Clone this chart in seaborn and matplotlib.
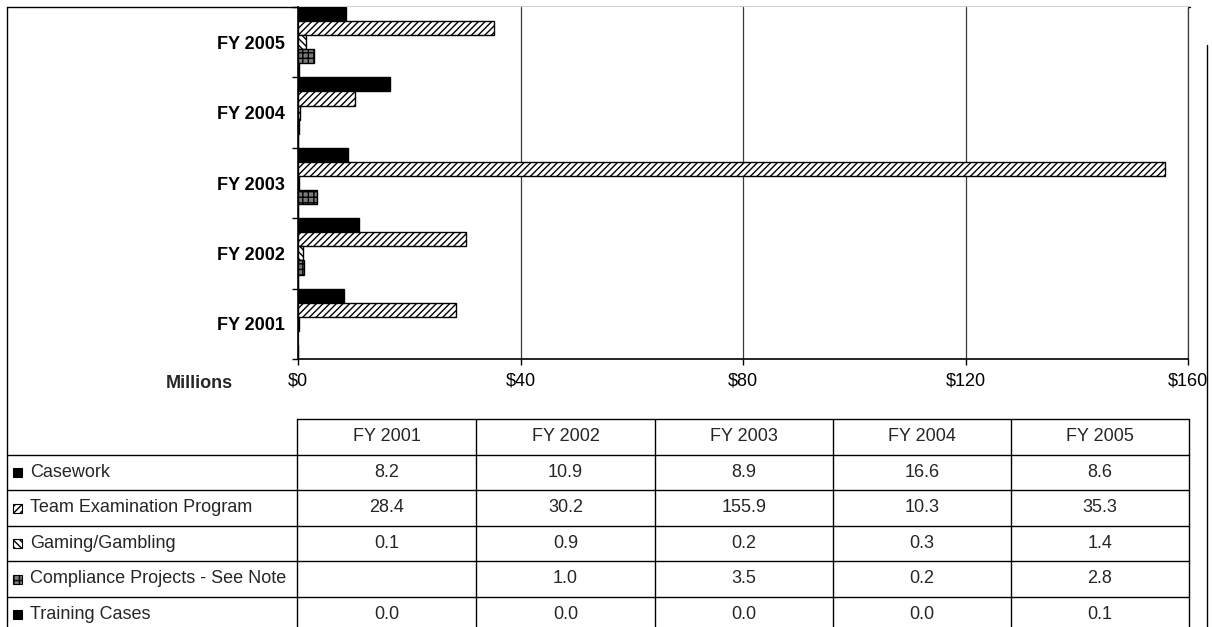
import matplotlib
matplotlib.use("Agg")
import matplotlib.pyplot as plt
from matplotlib.patches import Rectangle
import numpy as np
import pandas as pd
import seaborn as sns

# ---- data (millions of dollars) ----
years = ["FY 2001", "FY 2002", "FY 2003", "FY 2004", "FY 2005"]
programs = ["Casework", "Team Examination Program", "Gaming/Gambling",
            "Compliance Projects - See Note", "Training Cases"]
casework = [8.2, 10.9, 8.9, 16.6, 8.6]
team_exam = [28.4, 30.2, 155.9, 10.3, 35.3]
gaming = [0.1, 0.9, 0.2, 0.3, 1.4]
compliance = [None, 1.0, 3.5, 0.2, 2.8]
training = [0.0, 0.0, 0.0, 0.0, 0.1]
x_ticks = [0, 40, 80, 120, 160]
x_tick_labels = ["$0", "$40", "$80", "$120", "$160"]
unit_label = "Millions"

series = dict(zip(programs, [casework, team_exam, gaming, compliance, training]))

records = []
for prog, vals in series.items():
    for yr, v in zip(years, vals):
        records.append({"year": yr, "program": prog,
                        "value": np.nan if v is None else v})
df = pd.DataFrame(records)

# fill style of each program (bars and table swatches)
styles = {
    "Casework": dict(face="black", hatch=None),
    "Team Examination Program": dict(face="white", hatch="/////"),
    "Gaming/Gambling": dict(face="white", hatch="\\\\\\\\\\"),
    "Compliance Projects - See Note": dict(face="#7a7a7a", hatch="+++"),
    "Training Cases": dict(face="black", hatch=None),
}

sns.set_theme(style="ticks")
plt.rcParams["font.family"] = ["Liberation Sans", "DejaVu Sans"]
plt.rcParams["hatch.linewidth"] = 1.0
plt.rcParams["hatch.color"] = "black"

W, H = 1212, 627
fig = plt.figure(figsize=(W / 100, H / 100), dpi=100)
fig.patch.set_facecolor("white")

def px_rect(x0, y0, x1, y1):
    return [x0 / W, 1 - y1 / H, (x1 - x0) / W, (y1 - y0) / H]

# ---- bar chart ----
ax = fig.add_axes(px_rect(298, 7, 1188, 359))
order = years[::-1]
sns.barplot(data=df, x="value", y="year", hue="program", order=order,
            hue_order=programs, orient="h", width=1.0, dodge=True,
            errorbar=None, palette=[styles[p]["face"] for p in programs],
            saturation=1, edgecolor="black", linewidth=1.0, legend=False, ax=ax)

for cont, prog in zip(ax.containers, programs):
    for bar in cont:
        bar.set_facecolor(styles[prog]["face"])
        bar.set_edgecolor("black")
        if styles[prog]["hatch"]:
            bar.set_hatch(styles[prog]["hatch"])

ax.set_xlim(x_ticks[0], x_ticks[-1])
ax.set_ylim(len(order) - 0.5, -0.5)
ax.set_xticks(x_ticks)
ax.set_xticklabels(x_tick_labels, fontsize=13)
ax.set_yticks(range(len(order)))
ax.set_yticklabels(order, fontsize=13, fontweight="bold")
ax.set_yticks(np.arange(-0.5, len(order), 1.0), minor=True)
ax.tick_params(axis="y", which="major", length=0, pad=9.5, colors="black")
ax.tick_params(axis="y", which="minor", length=4, width=1, direction="out", color="black")
ax.tick_params(axis="x", length=4, width=1, pad=6, colors="black")
ax.set_xlabel("")
ax.set_ylabel("")
ax.grid(axis="x", color="#3a3a3a", linewidth=0.9)
ax.grid(axis="y", visible=False)
ax.set_axisbelow(True)
for side in ["left", "bottom"]:
    ax.spines[side].set_color("black")
    ax.spines[side].set_linewidth(1.2)
ax.spines["top"].set_visible(False)
ax.spines["right"].set_color("#3a3a3a")
ax.spines["right"].set_linewidth(0.9)

fig.text(199 / W, 1 - 383 / H, unit_label, ha="center", va="center",
         fontsize=13, fontweight="bold")

# ---- data table under the chart ----
tab = fig.add_axes([0, 0, 1, 1], zorder=-1)
tab.set_xlim(0, W)
tab.set_ylim(H, 0)
tab.axis("off")

col_edges = [297, 476, 655, 833, 1011, 1189]
row_edges = [419, 454.5, 490, 525.5, 561, 596.5, 632]
line_kw = dict(color="black", linewidth=1.0)

# outer frame
tab.plot([7, 7], [7, H], **line_kw)
tab.plot([7, 1190], [7, 7], **line_kw)
tab.plot([1207, 1207], [45, H], **line_kw)

tab.plot([col_edges[0], col_edges[-1]], [row_edges[0]] * 2, **line_kw)
for y in row_edges[1:-1]:
    tab.plot([7, col_edges[-1]], [y, y], **line_kw)
for x in col_edges:
    tab.plot([x, x], [row_edges[0], row_edges[-1]], **line_kw)

TABLE_FS = 13
for i, yr in enumerate(years):
    cx = (col_edges[i] + col_edges[i + 1]) / 2
    tab.text(cx, (row_edges[0] + row_edges[1]) / 2, yr, ha="center",
             va="center", fontsize=TABLE_FS)

for r, prog in enumerate(programs):
    cy = (row_edges[r + 1] + row_edges[r + 2]) / 2
    st = styles[prog]
    tab.add_patch(Rectangle((12.5, cy - 4), 9, 9, facecolor=st["face"],
                            edgecolor="black", linewidth=0.8,
                            hatch=st["hatch"]))
    tab.text(30, cy, prog, ha="left", va="center", fontsize=TABLE_FS)
    for i, v in enumerate(series[prog]):
        if v is None:
            continue
        cx = (col_edges[i] + col_edges[i + 1]) / 2
        tab.text(cx, cy, f"{v:.1f}", ha="center", va="center", fontsize=TABLE_FS)

fig.savefig("out.png", dpi=100, facecolor="white")
